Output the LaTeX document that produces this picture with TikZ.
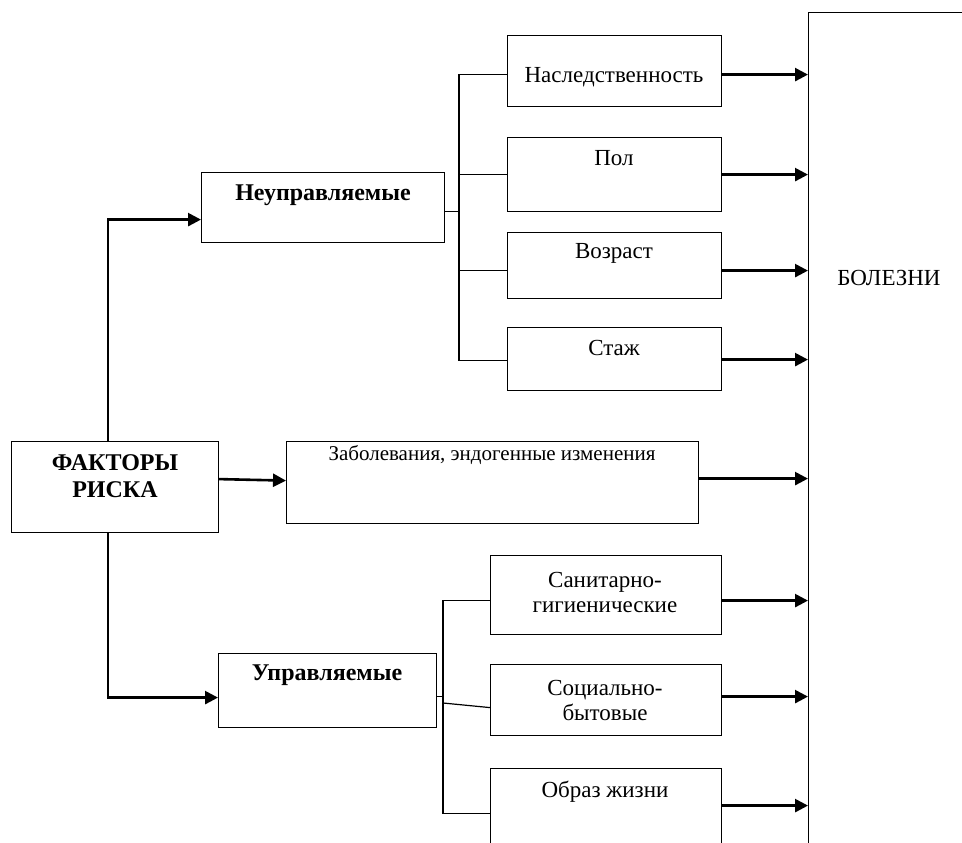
\documentclass[tikz,border=0pt]{standalone}
\usepackage{fontspec}
\setmainfont{Liberation Serif}
\usetikzlibrary{arrows.meta}

\tikzset{
  box/.style={draw,line width=1.2pt,inner sep=0pt,anchor=north west},
  lbl/.style={font=\fontsize{23}{25}\selectfont,align=center,inner sep=0pt},
  head/.style={font=\fontsize{24}{27}\selectfont\bfseries,align=center,inner sep=0pt},
  ln/.style={line width=1.2pt},
  arr/.style={line width=2.6pt,-{Triangle[length=13pt,width=13pt]}}
}

\begin{document}
\begin{tikzpicture}[x=1pt,y=-1pt]
\useasboundingbox (0,0) rectangle (962,843);

% boxes
\node[box,minimum width=207,minimum height=91] (faktory) at (11,441) {};
\node[box,minimum width=243,minimum height=70] (neupr) at (201,172) {};
\node[box,minimum width=218,minimum height=74] (upr) at (218,653) {};
\node[box,minimum width=214,minimum height=71] (nasl) at (507,35) {};
\node[box,minimum width=214,minimum height=74] (pol) at (507,137) {};
\node[box,minimum width=214,minimum height=66] (vozr) at (507,232) {};
\node[box,minimum width=214,minimum height=63] (stazh) at (507,327) {};
\node[box,minimum width=412,minimum height=82] (zabol) at (286,441) {};
\node[box,minimum width=231,minimum height=79] (sanit) at (490,555) {};
\node[box,minimum width=231,minimum height=71] (soc) at (490,664) {};
\node[box,minimum width=231,minimum height=102] (obraz) at (490,768) {};
\node[box,minimum width=200,minimum height=900] (bolezni) at (808,12) {};

% texts
\node[head] (faktoryt) at (115,476) {ФАКТОРЫ\\РИСКА};
\node[head] (neuprt) at (323,195) {Неуправляемые};
\node[head] (uprt) at (327,675) {Управляемые};
\node[lbl] (naslt) at (614,77) {Наследственность};
\node[lbl] (polt) at (614,158) {Пол};
\node[lbl] (vozrt) at (614,253) {Возраст};
\node[lbl] (stazht) at (614,348) {Стаж};
\node[lbl,font=\fontsize{21}{25}\selectfont] (zabolt) at (492,455) {Заболевания, эндогенные изменения};
\node[lbl] (sanitt) at (605,592) {Санитарно-\\гигиенические};
\node[lbl] (soct) at (605,700) {Социально-\\бытовые};
\node[lbl] (obrazt) at (605,792) {Образ жизни};
\node[lbl] (boleznit) at (889,278) {БОЛЕЗНИ};

% from the root
\draw[arr] ([xshift=-7pt]faktory.north) |- ([yshift=-12pt]neupr.west);
\draw[arr] ([xshift=-7pt]faktory.south) |- ([yshift=-7pt]upr.west);
\draw[arr] ([yshift=8pt]faktory.east) -- ([yshift=2pt]zabol.west);

% upper bus
\coordinate (busu) at (459,211);
\draw[ln] ([yshift=-4pt]neupr.east) -- ([yshift=-4pt]neupr.east -| busu);
\draw[ln] ([yshift=-3.5pt]nasl.west) -| (busu) |- ([yshift=-1.5pt]stazh.west);
\draw[ln] (pol.west) -- (pol.west -| busu);
\draw[ln] ([yshift=-5pt]vozr.west) -- ([yshift=-5pt]vozr.west -| busu);

% lower bus
\coordinate (busl) at (443,696);
\draw[ln] ([yshift=-6pt]upr.east) -- ([yshift=-6pt]upr.east -| busl);
\draw[ln] ([yshift=-5.5pt]sanit.west) -| (busl) |- ([yshift=6pt]obraz.west);
\draw[ln] ([yshift=-7pt]busl) -- ([yshift=-7.5pt]soc.west);

% into the diseases box
\foreach \b/\s in {nasl/-3.5,pol/0,vozr/-5,stazh/-0.5,zabol/4,sanit/-5.5,soc/3.5,obraz/14}
  \draw[arr] ([yshift=\s pt]\b.east) -- ([yshift=\s pt]\b.east -| bolezni.west);
\end{tikzpicture}
\end{document}
